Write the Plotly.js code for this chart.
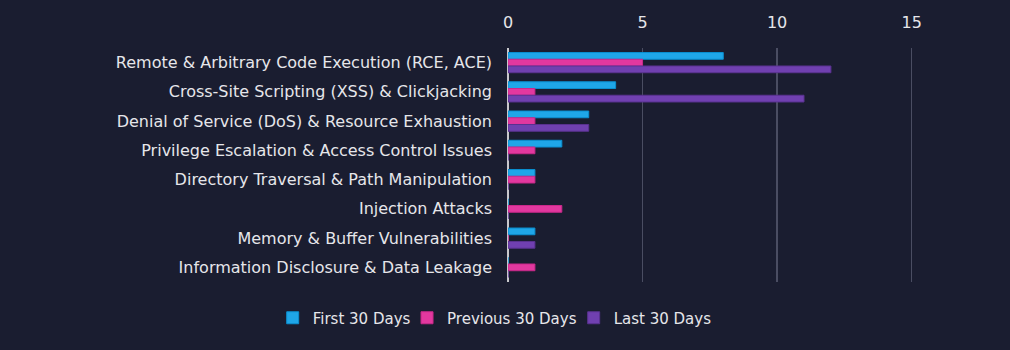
<!DOCTYPE html>
<html>
<head>
<meta charset="utf-8">
<script src="https://cdn.plot.ly/plotly-3.0.1.min.js"></script>
<style>
html,body{margin:0;padding:0;background:#1a1d30;}
#chart{width:1010px;height:350px;}
</style>
</head>
<body>
<div id="chart"></div>
<script>
const categories = [
  "Remote & Arbitrary Code Execution (RCE, ACE)",
  "Cross-Site Scripting (XSS) & Clickjacking",
  "Denial of Service (DoS) & Resource Exhaustion",
  "Privilege Escalation & Access Control Issues",
  "Directory Traversal & Path Manipulation",
  "Injection Attacks",
  "Memory & Buffer Vulnerabilities",
  "Information Disclosure & Data Leakage"
];
const firstDays = [8, 4, 3, 2, 1, 0, 1, 0];
const previousDays = [5, 1, 1, 1, 1, 2, 0, 1];
const lastDays = [12, 11, 3, 0, 0, 0, 1, 0];
const seriesNames = ["First 30 Days", "Previous 30 Days", "Last 30 Days"];
const tickValues = [0, 5, 10, 15];

const colors = ["#1fa6e8", "#e2389f", "#7040b0"];
const lines = ["#0a8fd0", "#c9288a", "#5a3290"];
const legendIds = ["legend", "legend2", "legend3"];
const data = [firstDays, previousDays, lastDays].map((vals, i) => ({
  type: "bar",
  orientation: "h",
  name: seriesNames[i],
  x: vals,
  y: categories,
  legend: legendIds[i],
  marker: {color: colors[i], line: {color: lines[i], width: 1}},
  hoverinfo: "x+y"
}));

const legendX = [0.270, 0.403, 0.568];
function legendCfg(x) {
  return {
    orientation: "h",
    xref: "container", x: x, xanchor: "left",
    yref: "container", y: 0.0914, yanchor: "middle",
    font: {size: 15, color: "#e6e6ea"},
    itemwidth: 30,
    bgcolor: "rgba(0,0,0,0)"
  };
}

const layout = {
  width: 1010,
  height: 350,
  paper_bgcolor: "#1a1d30",
  plot_bgcolor: "#1a1d30",
  font: {family: "DejaVu Sans, sans-serif", color: "#e6e6ea", size: 15},
  margin: {l: 508, r: 97, t: 48, b: 68, autoexpand: false},
  barmode: "group",
  bargap: 0.31,
  bargroupgap: 0,
  showlegend: true,
  legend: legendCfg(legendX[0]),
  legend2: legendCfg(legendX[1]),
  legend3: legendCfg(legendX[2]),
  xaxis: {
    side: "top",
    range: [0, 15.05],
    tickvals: tickValues,
    ticktext: tickValues.map(String),
    showgrid: true,
    gridcolor: "#4a4d62",
    gridwidth: 1.5,
    zeroline: true,
    zerolinecolor: "#c8c8cc",
    zerolinewidth: 1.5,
    showline: false,
    ticks: "",
    ticklabelstandoff: 16,
    tickfont: {size: 16, color: "#e6e6ea"},
    fixedrange: true
  },
  yaxis: {
    autorange: "reversed",
    showgrid: false,
    showline: false,
    ticks: "",
    ticklabelstandoff: 15,
    tickfont: {size: 16, color: "#e6e6ea"},
    fixedrange: true
  }
};

Plotly.newPlot("chart", data, layout, {displayModeBar: false, staticPlot: true});
</script>
</body>
</html>
